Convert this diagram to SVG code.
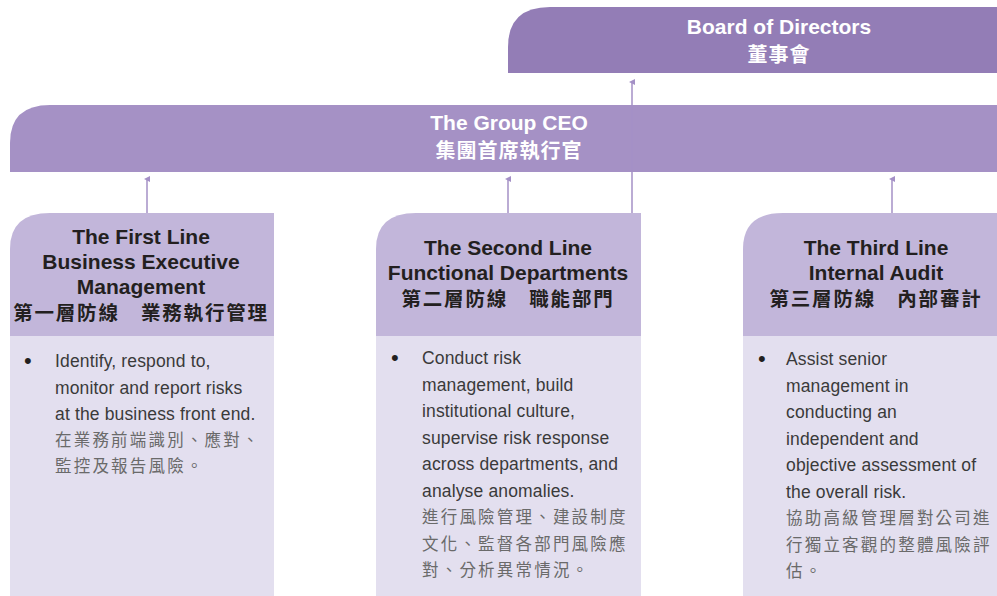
<svg xmlns="http://www.w3.org/2000/svg" width="997" height="596" viewBox="0 0 997 596">
<style>
.hd{font-family:"Liberation Sans","Noto Sans CJK TC",sans-serif;font-weight:bold;font-size:21px;fill:#231f20;text-anchor:middle}
.hdc{font-family:"Noto Sans CJK TC",sans-serif;font-weight:bold;font-size:19.5px;fill:#231f20;text-anchor:middle;letter-spacing:1.8px}
.top{font-family:"Liberation Sans","Noto Sans CJK TC",sans-serif;font-weight:bold;font-size:21px;fill:#ffffff;text-anchor:middle}
.topc{font-family:"Noto Sans CJK TC",sans-serif;font-weight:bold;font-size:20px;fill:#ffffff;text-anchor:middle;letter-spacing:1px}
.en{font-family:"Liberation Sans",sans-serif;font-size:17.5px;fill:#3a3a3a;letter-spacing:0.15px}
.zh{font-family:"Noto Sans CJK TC",sans-serif;font-size:16.5px;fill:#6a6a6a;letter-spacing:2.2px}
.bul{font-family:"Liberation Sans",sans-serif;font-size:22px;fill:#231f20}
.hbox{fill:#c2b6da}
.bbox{fill:#e3dfef}
.conn{stroke:#a490c6;stroke-width:1.5;fill:none}
</style>
<defs>
<marker id="ah" markerWidth="6" markerHeight="6" refX="3" refY="3" orient="auto" markerUnits="userSpaceOnUse">
<path d="M0,6 L3,0 L6,6 Z" fill="#a490c6"/>
</marker>
</defs>

<g id="board">
<path d="M508,73 L508,47 Q508,7 550,7 L997,7 L997,73 Z" fill="#937db6"/>
<text class="top" x="779" y="34">Board of Directors</text>
<text class="topc" x="779" y="62">董事會</text>
</g>

<g id="ceo">
<path d="M10,172 L10,143 Q10,105 50,105 L997,105 L997,172 Z" fill="#a591c5"/>
<text class="top" x="509" y="130">The Group CEO</text>
<text class="topc" x="509" y="158">集團首席執行官</text>
</g>

<g id="first-line">
<path class="hbox" d="M10,336 L10,249 Q10,213 50,213 L274,213 L274,336 Z"/>
<rect class="bbox" x="10" y="336" width="264" height="260"/>
<text class="hd" x="141" y="244">The First Line</text>
<text class="hd" x="141" y="269">Business Executive</text>
<text class="hd" x="141" y="294">Management</text>
<text class="hdc" x="141" y="320">第一層防線　業務執行管理</text>
<text class="bul" x="24" y="368">•</text>
<text class="en" x="55" y="367">Identify, respond to,</text>
<text class="en" x="55" y="394">monitor and report risks</text>
<text class="en" x="55" y="420">at the business front end.</text>
<text class="zh" x="55" y="446">在業務前端識別、應對、</text>
<text class="zh" x="55" y="472">監控及報告風險。</text>
</g>

<g id="second-line">
<path class="hbox" d="M376,336 L376,249 Q376,213 416,213 L641,213 L641,336 Z"/>
<rect class="bbox" x="376" y="336" width="265" height="260"/>
<text class="hd" x="508" y="255">The Second Line</text>
<text class="hd" x="508" y="280">Functional Departments</text>
<text class="hdc" x="508" y="306">第二層防線　職能部門</text>
<text class="bul" x="391" y="365">•</text>
<text class="en" x="422" y="364">Conduct risk</text>
<text class="en" x="422" y="390.5">management, build</text>
<text class="en" x="422" y="417">institutional culture,</text>
<text class="en" x="422" y="443.5">supervise risk response</text>
<text class="en" x="422" y="470">across departments, and</text>
<text class="en" x="422" y="496.5">analyse anomalies.</text>
<text class="zh" x="422" y="523">進行風險管理、建設制度</text>
<text class="zh" x="422" y="549.5">文化、監督各部門風險應</text>
<text class="zh" x="422" y="576">對、分析異常情況。</text>
</g>

<g id="third-line">
<path class="hbox" d="M743,336 L743,249 Q743,213 783,213 L997,213 L997,336 Z"/>
<rect class="bbox" x="743" y="336" width="254" height="260"/>
<text class="hd" x="876" y="255">The Third Line</text>
<text class="hd" x="876" y="280">Internal Audit</text>
<text class="hdc" x="876" y="306">第三層防線　內部審計</text>
<text class="bul" x="758" y="366">•</text>
<text class="en" x="786" y="365">Assist senior</text>
<text class="en" x="786" y="391.5">management in</text>
<text class="en" x="786" y="418">conducting an</text>
<text class="en" x="786" y="444.5">independent and</text>
<text class="en" x="786" y="471">objective assessment of</text>
<text class="en" x="786" y="497.5">the overall risk.</text>
<text class="zh" x="786" y="524">協助高級管理層對公司進</text>
<text class="zh" x="786" y="550.5">行獨立客觀的整體風險評</text>
<text class="zh" x="786" y="577">估。</text>
</g>

<g id="connectors">
<line class="conn" x1="147" y1="213" x2="147" y2="179" marker-end="url(#ah)"/>
<line class="conn" x1="508" y1="213" x2="508" y2="179" marker-end="url(#ah)"/>
<line class="conn" x1="892" y1="213" x2="892" y2="179" marker-end="url(#ah)"/>
<line class="conn" x1="632" y1="213" x2="632" y2="82" marker-end="url(#ah)"/>
</g>
</svg>
